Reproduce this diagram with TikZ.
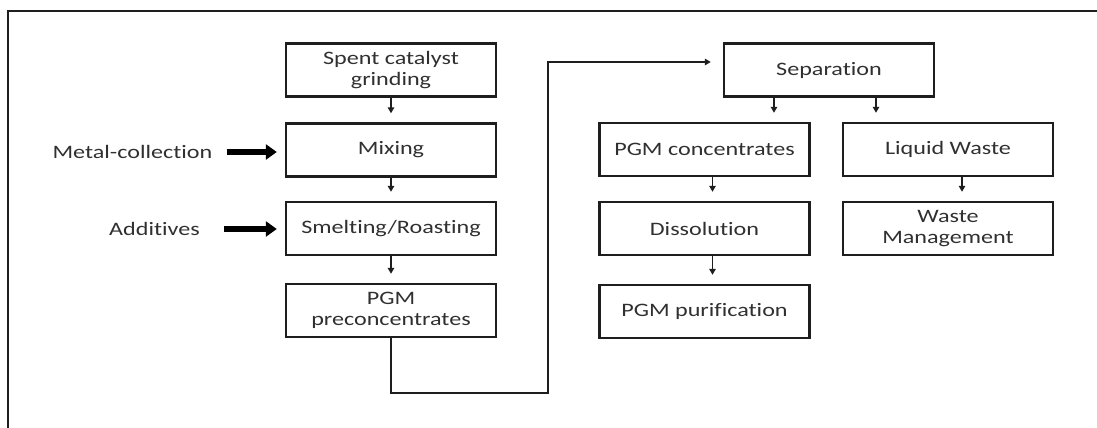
\documentclass[tikz,border=0pt]{standalone}
\usepackage{fontspec}
\setmainfont[FakeStretch=1.27,Ligatures=NoCommon]{Carlito}
\usetikzlibrary{arrows.meta,calc}
\definecolor{txt}{HTML}{303030}
\definecolor{ln}{HTML}{1E1E1E}
\begin{document}
\begin{tikzpicture}[x=1pt,y=-1pt,
  every node/.style={font=\fontsize{19}{21}\selectfont, text=txt},
  stepbox/.style={draw=ln, line width=2.4pt, minimum width=210pt, minimum height=53pt, align=center, inner sep=2pt},
  lbl/.style={inner sep=0pt},
  smallarr/.style={draw=ln, line width=1.4pt, -{Triangle[length=6pt,width=6.5pt]}, shorten >=9pt},
  bigarr/.style={draw=black, line width=5.5pt, -{Triangle[length=11pt,width=15pt]}},
  conn/.style={draw=ln, line width=1.4pt},
  frameline/.style={draw=ln, line width=2.4pt}]
\useasboundingbox (0,0) rectangle (1097,428);
\draw[frameline] (8,428) -- (8,11) -- (1097,11);
% left column
\node[stepbox] (spent) at (391,70) {Spent catalyst\\grinding};
\node[stepbox] (mix) at (391,150) {Mixing};
\node[stepbox] (smelt) at (391,228.5) {Smelting/Roasting};
\node[stepbox] (pre) at (391,310.5) {PGM\\preconcentrates};
% right part
\node[stepbox] (sep) at (829,70) {Separation};
\node[stepbox] (conc) at (704.5,149.5) {PGM concentrates};
\node[stepbox] (lw) at (948,149.5) {Liquid Waste};
\node[stepbox] (diss) at (704.5,228.5) {Dissolution};
\node[stepbox] (wm) at (948,228.5) {Waste\\Management};
\node[stepbox] (pur) at (704.5,311.5) {PGM purification};
% inputs
\node[lbl] (mc) at (132.5,152) {Metal-collection};
\node[lbl] (add) at (154.5,229) {Additives};
\draw[bigarr, shorten <=14pt, shorten >=8pt] (mc.east) -- (mc.east -| mix.west);
\draw[bigarr, shorten <=24pt, shorten >=8pt] (add.east) -- (add.east -| smelt.west);
% small arrows
\draw[smallarr] (spent.south) -- (mix.north);
\draw[smallarr] (mix.south) -- (smelt.north);
\draw[smallarr] (smelt.south) -- (pre.north);
\draw[smallarr] ([xshift=-55pt]sep.south) -- ([xshift=-55pt]sep.south |- conc.north);
\draw[smallarr] ([xshift=47pt]sep.south) -- ([xshift=47pt]sep.south |- lw.north);
\draw[smallarr] ([xshift=8pt]conc.south) -- ([xshift=8pt]diss.north);
\draw[smallarr] ([xshift=14pt]lw.south) -- ([xshift=14pt]wm.north);
\draw[smallarr] ([xshift=8pt]diss.south) -- ([xshift=8pt]pur.north);
% long connector
\coordinate (c1) at (548,393);
\coordinate (c2) at (548,62);
\draw[conn, -{Triangle[length=6pt,width=6.5pt]}, shorten >=12pt] (pre.south) |- (c1) -- (c2) -- (c2 -| sep.west);
\end{tikzpicture}
\end{document}
